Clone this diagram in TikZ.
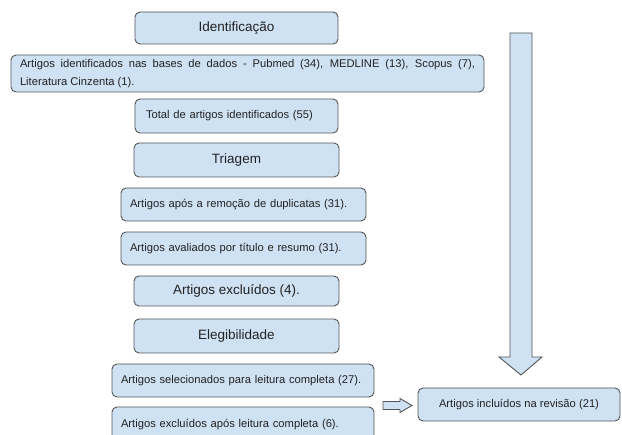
\documentclass[tikz,border=0pt]{standalone}
\usepackage{fontspec}
\setmainfont{Liberation Sans}
\usetikzlibrary{calc}
\begin{document}
\begin{tikzpicture}[x=1pt,y=-1pt,
  every node/.style={inner sep=0pt, outer sep=0pt},
  boxbase/.style={draw=boxline, fill=boxfill, line width=0.9pt, rounded corners=5pt, anchor=north west, text=textc},
  titlebox/.style={boxbase, font=\fontsize{13.5}{16}\selectfont, align=center},
  itembox/.style={boxbase, font=\fontsize{11.2}{14}\selectfont, align=left, inner xsep=9pt},
  blockarrow/.style={draw=boxline, fill=boxfill, line width=0.9pt, line join=miter}
]
\definecolor{boxfill}{HTML}{CFE2F3}
\definecolor{boxline}{HTML}{555555}
\definecolor{textc}{HTML}{222222}
\useasboundingbox (0,0) rectangle (622,435);
\clip (0,0) rectangle (622,435);
\fill[white] (0,0) rectangle (622,435);

\node[titlebox, minimum width=203pt, minimum height=32pt] (ident) at (135,12) {Identificação};
\node[itembox, minimum width=473pt, minimum height=37pt, text width=455pt, align=justify,
      font=\fontsize{11.2}{18}\selectfont] (artigos) at (11,55)
  {\hyphenpenalty=10000 Artigos identificados nas bases de dados - Pubmed (34), MEDLINE (13), Scopus (7),\linebreak Literatura Cinzenta (1).};
\node[itembox, minimum width=203pt, minimum height=34pt, text width=181pt, inner xsep=11pt] (total) at (135,99) {Total de artigos identificados (55)\\[2pt]};
\node[titlebox, minimum width=205pt, minimum height=34pt] (triagem) at (134,143) {Triagem};
\node[itembox, minimum width=245pt, minimum height=33pt, text width=227pt] (apos) at (121,188) {Artigos após a remoção de duplicatas (31).\\[2pt]};
\node[itembox, minimum width=245pt, minimum height=33pt, text width=227pt] (aval) at (121,232) {Artigos avaliados por título e resumo (31).\\[2pt]};
\node[titlebox, minimum width=205pt, minimum height=30pt] (excl) at (134,276) {Artigos excluídos (4).};
\node[titlebox, minimum width=205pt, minimum height=34pt] (eleg) at (134,319) {Elegibilidade};
\node[itembox, minimum width=262pt, minimum height=33pt, text width=244pt] (selec) at (112,364) {Artigos selecionados para leitura completa (27).\\[2pt]};
\node[itembox, minimum width=262pt, minimum height=36pt, text width=244pt] (exclapos) at (112,407) {Artigos excluídos após leitura completa (6).\\[12pt]};
\node[boxbase, font=\fontsize{11.2}{14}\selectfont, minimum width=202pt, minimum height=33pt] (incl) at (418,388) {Artigos incluídos na revisão (21)};

% big downward block arrow
\draw[blockarrow] (510,33) -- (532,33) -- (532,357) -- (542,357) -- (521,375) -- (499,357) -- (510,357) -- cycle;

% small rightward block arrow
\draw[blockarrow] ($(incl.west)+(-35,-3)$) -- ($(incl.west)+(-18,-3)$) -- ($(incl.west)+(-18,-6)$)
  -- ($(incl.west)+(-6,1)$) -- ($(incl.west)+(-18,8)$) -- ($(incl.west)+(-18,5)$) -- ($(incl.west)+(-35,5)$) -- cycle;
\end{tikzpicture}
\end{document}
